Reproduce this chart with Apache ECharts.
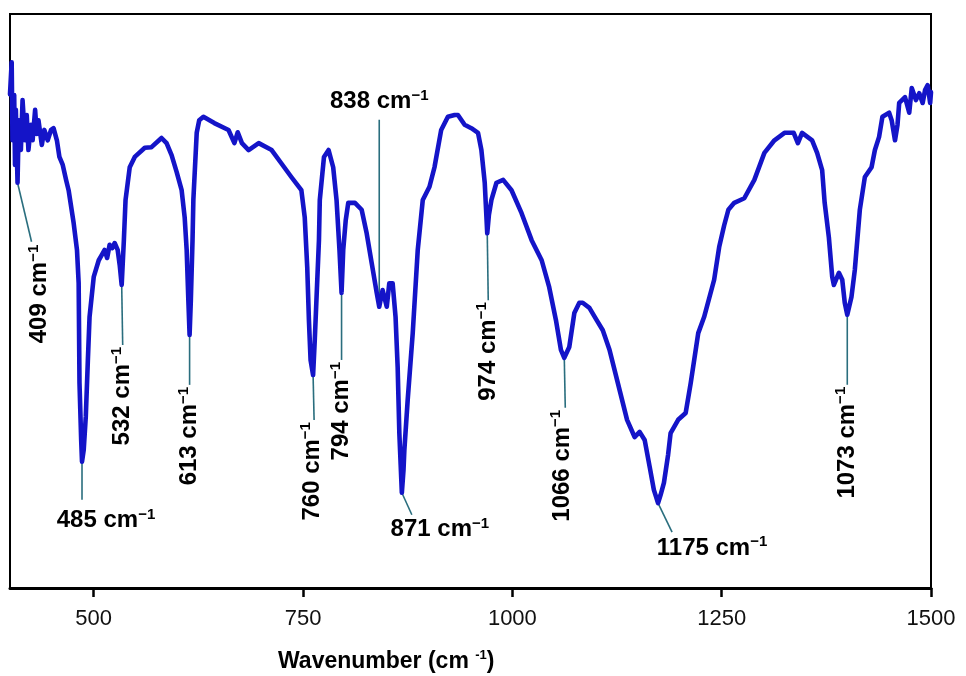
<!DOCTYPE html>
<html>
<head>
<meta charset="utf-8">
<title>IR spectrum</title>
<script src="https://cdn.jsdelivr.net/npm/echarts@6/dist/echarts.min.js"></script>
<style>
	html, body { margin: 0; padding: 0; background: #fff; }
	#main { width: 966px; height: 676px; }
</style>
</head>
<body>
<div id="main"></div>
<script>
// spectrum: wavenumber (cm-1) and transmittance (% of plot height)
const wavenumber = [
	400, 402, 403, 405, 406, 407, 409, 410.5, 413, 415, 418, 420, 422, 425, 427, 430, 432, 434, 438, 441,
	445, 449, 452, 456, 459, 463, 467, 470, 476, 480, 482, 483, 485, 486, 488, 490.5, 493, 495, 500, 506,
	509.5, 513, 516, 519, 522, 525, 528.6, 531, 533.4, 536, 538, 543, 549, 561, 569, 578, 581, 587, 593, 599,
	605, 608.6, 611, 613, 614.5, 616, 618, 619, 623, 626, 631, 644, 661, 668, 672, 677, 685, 697, 712.5, 724,
	736, 748, 752, 755, 757, 759, 762, 764, 766, 769, 770, 775, 780.5, 786, 790, 793.5, 796, 798, 801, 804,
	812, 820, 826, 832, 838, 841, 845, 850, 853, 857, 860.5, 863, 865, 868, 870, 871, 875, 881, 887, 893,
	901, 907, 915, 923, 931, 935, 943, 951, 959, 963, 967, 970, 972, 975, 981, 989, 999, 1011, 1023, 1035,
	1044, 1052, 1058, 1062, 1068, 1074, 1080, 1084, 1092, 1100.5, 1108, 1116, 1126, 1137, 1146, 1152, 1158, 1164, 1169, 1174,
	1177, 1181, 1186, 1189, 1198, 1207, 1213, 1222, 1229, 1241, 1247, 1253, 1258, 1265, 1277, 1289, 1301, 1313, 1325, 1336,
	1341, 1346, 1358, 1364, 1370, 1373, 1378, 1382, 1384, 1390, 1394, 1397, 1400, 1405, 1409, 1415, 1421, 1429, 1433, 1438,
	1442, 1450, 1453, 1457, 1460, 1462, 1469, 1474, 1477, 1482, 1486, 1490, 1493, 1496, 1499, 1500
]
const transmittance = [
	86, 91.6, 78.0, 85.9, 73.7, 83.3, 70.6, 81.5, 76.3, 85.0, 78.0, 82.4, 76.3, 80.7, 78.0, 83.3, 79.1, 81.5, 77.2, 79.8,
	78.0, 79.8, 80.1, 78.0, 75.1, 73.7, 71.1, 69.3, 63.6, 58.9, 53.1, 35.7, 25.8, 22.0, 24.0, 29.8, 39.7, 47.2, 54.2, 57.1,
	58.0, 58.9, 57.5, 59.8, 59.2, 60.1, 58.9, 56.3, 52.8, 60.6, 67.6, 73.3, 75.1, 76.7, 76.8, 78.0, 78.4, 77.5, 75.4, 72.5,
	69.3, 64.6, 58.9, 50.2, 44.1, 50.2, 60.6, 67.6, 79.3, 81.5, 82.1, 81.0, 79.8, 77.5, 79.4, 77.5, 76.3, 77.5, 76.3, 74.0,
	71.6, 69.3, 64.6, 55.9, 46.7, 39.7, 37.1, 43.2, 50.2, 60.6, 67.6, 75.1, 76.3, 73.3, 67.6, 58.9, 51.4, 58.9, 64.1, 67.1,
	67.1, 65.9, 61.8, 56.6, 51.4, 49.0, 51.9, 49.0, 53.1, 53.1, 47.2, 38.5, 27.0, 16.6, 20.6, 24.0, 32.8, 44.4, 58.9, 67.6,
	69.9, 73.3, 79.8, 82.1, 82.4, 82.4, 80.7, 80.1, 79.3, 76.3, 70.6, 61.8, 65.0, 67.6, 70.6, 71.1, 69.3, 65.3, 60.6, 57.1,
	52.4, 46.7, 41.5, 40.1, 42.0, 47.9, 49.7, 49.7, 48.8, 46.7, 44.9, 41.5, 35.7, 29.3, 26.3, 27.2, 25.8, 21.1, 17.1, 14.8,
	16.2, 18.3, 23.2, 27.0, 29.3, 30.5, 35.7, 44.4, 47.2, 53.7, 59.4, 63.2, 65.9, 67.1, 67.9, 71.1, 75.8, 78.0, 79.3, 79.3,
	77.5, 79.3, 78.0, 75.8, 72.8, 67.1, 61.1, 54.2, 52.8, 54.9, 53.7, 49.7, 47.6, 50.7, 55.4, 65.9, 71.6, 73.3, 76.3, 78.6,
	82.1, 82.8, 81.5, 78.0, 80.7, 84.5, 85.5, 82.8, 87.1, 85.0, 86.2, 84.5, 86.8, 87.6, 84.5, 86.4
]
const xTicks = [500, 750, 1000, 1250, 1500]

// peak annotations: label text, and the point on the curve where the leader line starts
const peakText = ['409', '485', '532', '613', '760', '794', '838', '871', '974', '1066', '1175', '1073']
const peakWn = [409, 486, 533.4, 614.5, 762, 796, 841, 868, 970, 1062, 1174, 1400]
const peakT = [70.6, 22.0, 52.8, 44.1, 37.1, 51.4, 49.0, 16.6, 61.8, 40.1, 14.8, 47.6]

// leader line length (px) and where the label goes: v = rotated, h = flat
const peakLayout = [
	{dx: 14, dy: 59, dir: 'v', lx: 8, ly: 3},
	{dx: 0, dy: 38, dir: 'h', lx: 24, ly: 21},
	{dx: 1, dy: 60, dir: 'v', lx: 0, ly: 2},
	{dx: 0, dy: 50, dir: 'v', lx: 0, ly: 2},
	{dx: 1, dy: 45, dir: 'v', lx: -2, ly: 2},
	{dx: 0, dy: 67, dir: 'v', lx: 0, ly: 2},
	{dx: 0, dy: -187, dir: 'h', lx: 0, ly: -18},
	{dx: 10, dy: 22, dir: 'h', lx: 28, ly: 15},
	{dx: 1, dy: 67, dir: 'v', lx: 0, ly: 2},
	{dx: 1, dy: 50, dir: 'v', lx: -3, ly: 2},
	{dx: 14, dy: 29, dir: 'h', lx: 40, ly: 16},
	{dx: 0, dy: 70, dir: 'v', lx: 0, ly: 2}
]

const fam = 'Liberation Sans, Arial, sans-serif'
const labelRich = {
	a: {fontSize: 24, fontWeight: 'bold', fontFamily: fam, color: '#111', lineHeight: 27},
	s: {fontSize: 15, fontWeight: 'bold', fontFamily: fam, color: '#111', lineHeight: 15, verticalAlign: 'top'}
}

const getOp = () => {
	return {
		animation: false,
		backgroundColor: '#fff',
		grid: {
			left: 10,
			right: 35,
			top: 14,
			bottom: 88,
			show: true,
			borderColor: '#000',
			borderWidth: 2
		},
		xAxis: {
			type: 'value',
			min: 400,
			max: 1500,
			axisLine: {lineStyle: {color: '#000', width: 3}},
			axisTick: {customValues: xTicks, length: 9, lineStyle: {color: '#000', width: 2.5}},
			axisLabel: {
				customValues: xTicks,
				formatter: (v) => String(v),
				margin: 20,
				fontSize: 22,
				color: '#111',
				fontFamily: fam
			},
			splitLine: {show: false}
		},
		yAxis: {
			type: 'value',
			show: false,
			min: 0,
			max: 100
		},
		series: [
			{
				type: 'line',
				data: wavenumber.map((w, i) => [w, transmittance[i]]),
				showSymbol: false,
				clip: true,
				lineStyle: {color: '#1414c8', width: 4.6, join: 'round', cap: 'round'},
				z: 3
			}
		]
	}
}

const getGraphics = (chart) => {
	let g = []
	for (let i = 0; i < peakText.length; i++) {
		let p = chart.convertToPixel({seriesIndex: 0}, [peakWn[i], peakT[i]])
		let lay = peakLayout[i]
		let ex = p[0] + lay.dx
		let ey = p[1] + lay.dy
		g.push({
			type: 'line',
			shape: {x1: p[0], y1: p[1], x2: ex, y2: ey},
			style: {stroke: '#2a6e7e', lineWidth: 1.6},
			z: 2
		})
		let txt = '{a|' + peakText[i] + ' cm}{s|\u22121}'
		if (lay.dir === 'v') {
			g.push({
				type: 'text',
				x: ex + lay.lx,
				y: ey + lay.ly,
				rotation: Math.PI / 2,
				style: {text: txt, rich: labelRich, align: 'right', verticalAlign: 'middle'},
				z: 4
			})
		} else {
			g.push({
				type: 'text',
				x: ex + lay.lx,
				y: ey + lay.ly,
				style: {text: txt, rich: labelRich, align: 'center', verticalAlign: 'middle'},
				z: 4
			})
		}
	}
	// axis title
	g.push({
		type: 'text',
		x: 278,
		y: 662,
		style: {
			text: '{a|Wavenumber (cm }{s|-1}{a|)}',
			rich: {
				a: {fontSize: 23, fontWeight: 'bold', fontFamily: fam, color: '#111', lineHeight: 26},
				s: {fontSize: 13, fontWeight: 'bold', fontFamily: fam, color: '#111', lineHeight: 13, verticalAlign: 'top'}
			},
			align: 'left',
			verticalAlign: 'middle'
		}
	})
	return g
}

var myChart = echarts.init(document.getElementById('main'), null, {renderer: 'canvas'})
myChart.setOption(getOp())
myChart.setOption({graphic: getGraphics(myChart)})
</script>
</body>
</html>
